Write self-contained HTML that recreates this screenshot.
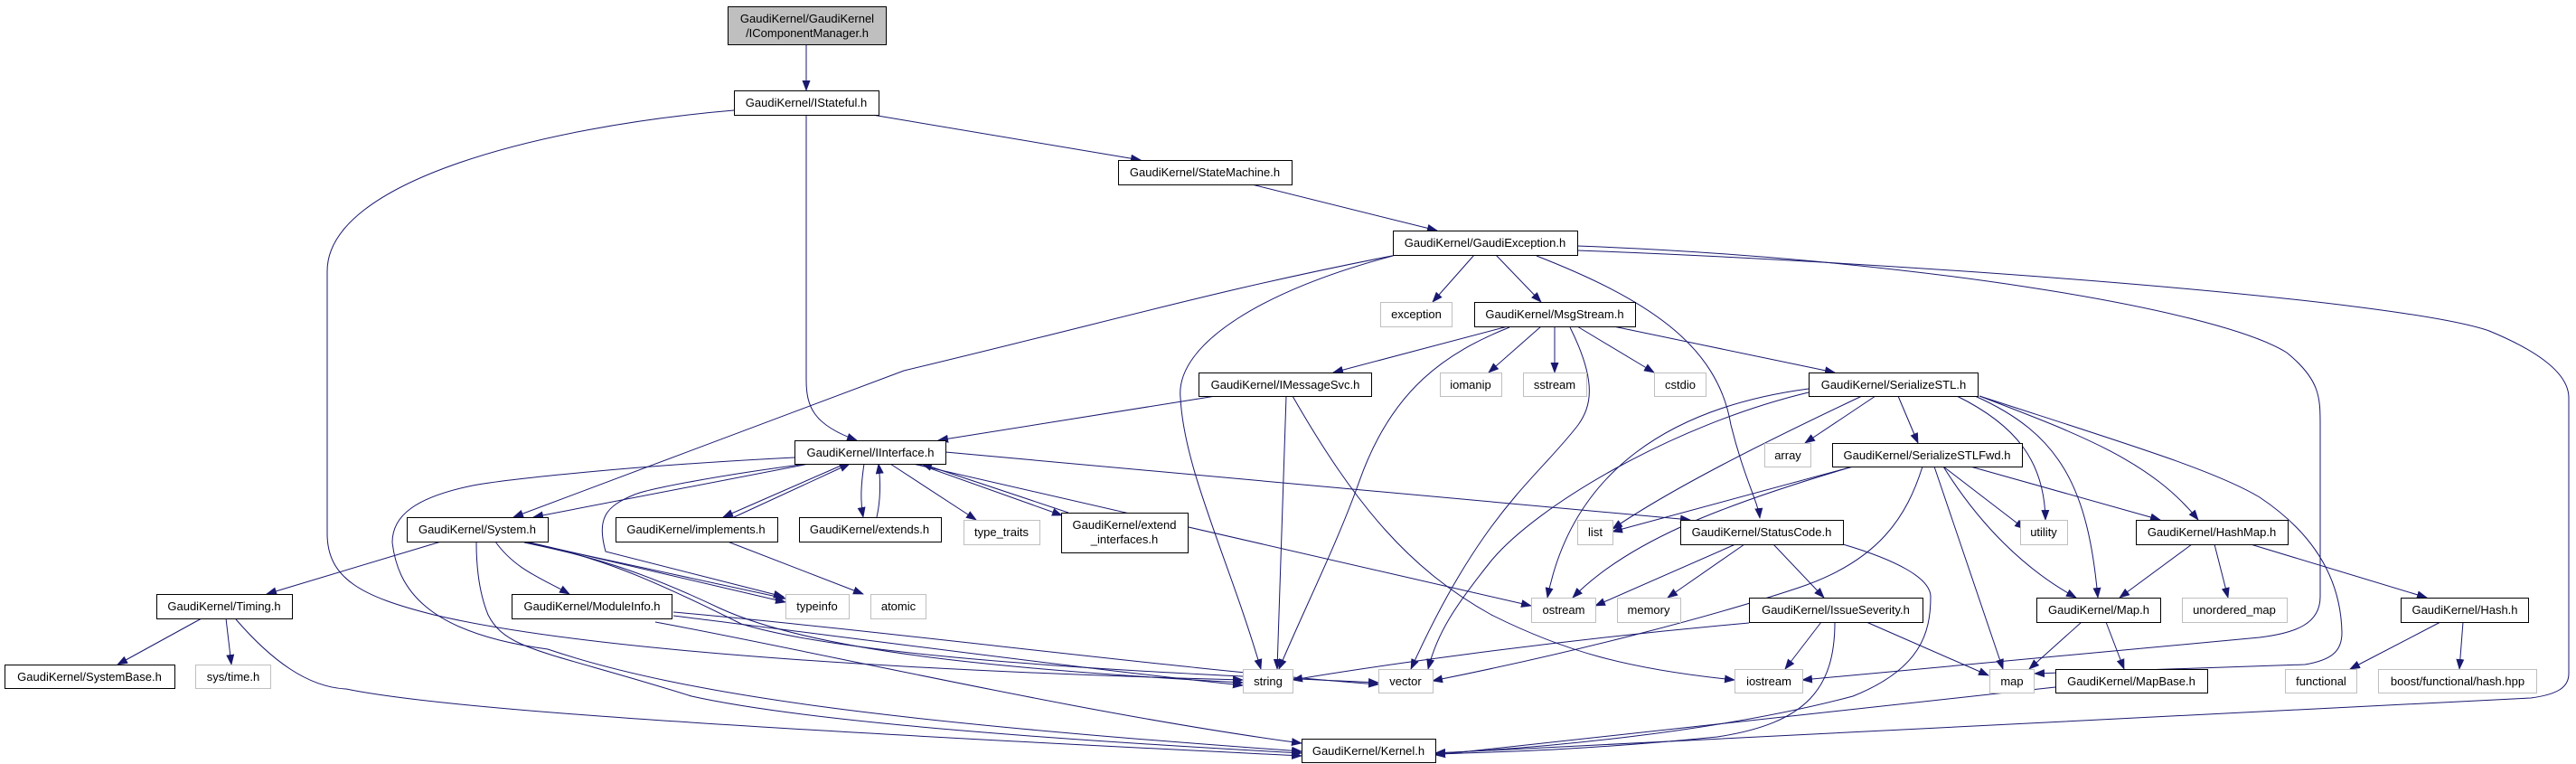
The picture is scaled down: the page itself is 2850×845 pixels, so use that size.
<!DOCTYPE html>
<html><head><meta charset="utf-8"><style>
html,body{margin:0;padding:0;background:#fff;}
svg{display:block;}
text{font-family:"Liberation Sans",Arial,sans-serif;font-size:13px;fill:#000;}
</style></head><body>
<svg width="2850" height="845" viewBox="0 0 2850 845" xmlns="http://www.w3.org/2000/svg">
<defs>
<marker id="a" markerWidth="12" markerHeight="9" refX="11" refY="4.5" orient="auto" markerUnits="userSpaceOnUse">
<path d="M0,0 L12,4.5 L0,9 z" fill="#191970"/>
</marker>
</defs>
<g fill="none" stroke="#191970" stroke-width="1" marker-end="url(#a)">
<path d="M892,49 L892,100"/>
<path d="M965,127 L1262,177"/>
<path d="M892,127 L892,420 C892,450 900,470 948,487"/>
<path d="M812,122 C600,140 362,200 362,300 L362,590 C362,640 400,660 480,680 C650,720 1000,742 1375,752"/>
<path d="M1385,204 L1590,255"/>
<path d="M1631,282 L1585,334"/>
<path d="M1655,282 L1705,334"/>
<path d="M1545,282 C1350,320 1250,350 1000,410 L568,572"/>
<path d="M1541,283 C1400,320 1300,380 1306,440 C1310,520 1360,620 1395,740"/>
<path d="M1700,283 C1820,330 1900,380 1915,470 C1930,530 1945,555 1947,573"/>
<path d="M1745,272 C2100,285 2450,340 2530,390 C2567,420 2567,440 2567,470 L2567,660 C2567,690 2540,700 2500,705 L1994,752"/>
<path d="M1745,277 C2100,290 2650,330 2754,366 C2800,385 2842,410 2842,440 L2842,745 C2842,760 2830,768 2800,772 L1588,833"/>
<path d="M1668,361 L1475,412"/>
<path d="M1670,362 C1600,390 1540,430 1504,532 C1480,600 1440,680 1415,740"/>
<path d="M1705,361 L1647,412"/>
<path d="M1720,361 L1720,412"/>
<path d="M1737,362 C1768,424 1760,450 1746,470 C1700,530 1640,565 1561,740"/>
<path d="M1745,361 L1830,412"/>
<path d="M1785,361 L2030,412"/>
<path d="M1345,438 L1038,487"/>
<path d="M1423,438 L1413,740"/>
<path d="M1430,438 C1500,560 1560,630 1650,680 C1730,720 1800,740 1919,752"/>
<path d="M879,506 C700,515 560,530 523,537 C460,550 434,570 434,600 C440,650 470,700 606,718 C760,770 1000,800 1440,831"/>
<path d="M895,513 L590,572"/>
<path d="M935,513 L800,572"/>
<path d="M812,572 L940,513"/>
<path d="M956,513 C952,540 952,555 955,572"/>
<path d="M970,572 C975,550 974,530 972,513"/>
<path d="M985,513 L1080,575"/>
<path d="M1015,513 L1175,570"/>
<path d="M1182,567 L1020,513"/>
<path d="M893,513 C800,525 720,540 702,547 C670,560 660,573 670,610 L867,660"/>
<path d="M1010,513 L1694,670"/>
<path d="M1046,500 L1870,575"/>
<path d="M488,599 L295,657"/>
<path d="M548,599 C570,630 600,640 630,657"/>
<path d="M527,600 C527,620 529,653 540,680 C560,720 606,720 765,770 C900,800 1200,820 1440,833"/>
<path d="M578,599 L869,662"/>
<path d="M582,599 L869,666"/>
<path d="M580,600 C650,615 700,627 797,673 C900,720 1100,740 1375,755"/>
<path d="M584,600 C660,615 720,640 820,690 C950,730 1300,745 1525,755"/>
<path d="M223,684 L130,735"/>
<path d="M250,684 L256,735"/>
<path d="M261,685 C300,730 340,760 383,762 C470,780 700,800 1440,836"/>
<path d="M745,681 C900,700 1200,740 1375,758"/>
<path d="M745,677 C1000,700 1300,740 1525,757"/>
<path d="M725,688 C900,720 1200,790 1440,822"/>
<path d="M805,599 L955,657"/>
<path d="M1920,602 L1765,670"/>
<path d="M1930,602 L1845,661"/>
<path d="M1962,602 L2018,661"/>
<path d="M2039,602 C2100,620 2136,640 2136,660 C2136,700 2125,740 2050,770 C1900,810 1700,828 1588,833"/>
<path d="M1935,689 C1700,710 1500,740 1430,752"/>
<path d="M2015,688 L1975,740"/>
<path d="M2065,688 L2200,747"/>
<path d="M2030,688 C2030,760 2000,800 1900,815 C1750,830 1650,832 1588,834"/>
<path d="M2075,438 L1997,490"/>
<path d="M2100,438 L2122,490"/>
<path d="M2165,438 C2230,470 2262,510 2263,575"/>
<path d="M2185,438 C2280,480 2310,540 2321,661"/>
<path d="M2190,438 C2300,480 2380,510 2432,575"/>
<path d="M2190,438 C2350,490 2450,520 2500,550 C2560,590 2590,640 2591,700 C2591,720 2580,730 2550,735 L2251,745"/>
<path d="M2001,430 C1850,450 1740,520 1712,661"/>
<path d="M2001,434 C1850,470 1700,560 1650,620 C1610,670 1590,700 1580,740"/>
<path d="M2060,438 C1950,490 1850,540 1784,585"/>
<path d="M2050,516 L1784,588"/>
<path d="M2050,516 C1900,560 1800,600 1740,661"/>
<path d="M2127,516 C2110,570 2080,620 1990,650 C1900,680 1750,720 1585,753"/>
<path d="M2150,516 L2240,585"/>
<path d="M2140,516 L2216,740"/>
<path d="M2150,516 C2190,580 2240,630 2297,661"/>
<path d="M2180,516 L2390,575"/>
<path d="M2425,602 L2345,661"/>
<path d="M2450,602 L2465,661"/>
<path d="M2490,602 L2685,661"/>
<path d="M2303,688 L2245,740"/>
<path d="M2330,688 L2350,740"/>
<path d="M2274,760 L1588,835"/>
<path d="M2700,688 L2600,740"/>
<path d="M2725,688 L2721,740"/>
</g>
<g stroke-width="1" fill="#fff">
<rect x="805.5" y="7.5" width="175" height="42" fill="#bfbfbf" stroke="#000"/>
<rect x="812.5" y="100.5" width="160" height="27" stroke="#000"/>
<rect x="1237.5" y="177.5" width="192" height="27" stroke="#000"/>
<rect x="1541.5" y="255.5" width="204" height="27" stroke="#000"/>
<rect x="1527.5" y="334.5" width="79" height="27" stroke="#bfbfbf"/>
<rect x="1631.5" y="334.5" width="178" height="27" stroke="#000"/>
<rect x="1326.5" y="412.5" width="191" height="26" stroke="#000"/>
<rect x="1593.5" y="412.5" width="68" height="26" stroke="#bfbfbf"/>
<rect x="1685.5" y="412.5" width="70" height="26" stroke="#bfbfbf"/>
<rect x="1830.5" y="412.5" width="57" height="26" stroke="#bfbfbf"/>
<rect x="2001.5" y="412.5" width="187" height="26" stroke="#000"/>
<rect x="879.5" y="487.5" width="167" height="26" stroke="#000"/>
<rect x="1952.5" y="490.5" width="51" height="26" stroke="#bfbfbf"/>
<rect x="2027.5" y="490.5" width="210" height="26" stroke="#000"/>
<rect x="450.5" y="572.5" width="156" height="27" stroke="#000"/>
<rect x="681.5" y="572.5" width="179" height="27" stroke="#000"/>
<rect x="884.5" y="572.5" width="157" height="27" stroke="#000"/>
<rect x="1066.5" y="575.5" width="84" height="27" stroke="#bfbfbf"/>
<rect x="1174.5" y="567.5" width="140" height="44" stroke="#000"/>
<rect x="1745.5" y="575.5" width="39" height="27" stroke="#bfbfbf"/>
<rect x="1859.5" y="575.5" width="180" height="27" stroke="#000"/>
<rect x="2235.5" y="575.5" width="52" height="27" stroke="#bfbfbf"/>
<rect x="2363.5" y="575.5" width="168" height="27" stroke="#000"/>
<rect x="173.5" y="657.5" width="150" height="27" stroke="#000"/>
<rect x="566.5" y="657.5" width="177" height="27" stroke="#000"/>
<rect x="869.5" y="657.5" width="70" height="27" stroke="#bfbfbf"/>
<rect x="963.5" y="657.5" width="61" height="27" stroke="#bfbfbf"/>
<rect x="1694.5" y="661.5" width="71" height="27" stroke="#bfbfbf"/>
<rect x="1789.5" y="661.5" width="70" height="27" stroke="#bfbfbf"/>
<rect x="1935.5" y="661.5" width="192" height="27" stroke="#000"/>
<rect x="2253.5" y="661.5" width="137" height="27" stroke="#000"/>
<rect x="2414.5" y="661.5" width="116" height="27" stroke="#bfbfbf"/>
<rect x="2656.5" y="661.5" width="141" height="27" stroke="#000"/>
<rect x="5.5" y="735.5" width="188" height="26" stroke="#000"/>
<rect x="216.5" y="735.5" width="83" height="26" stroke="#bfbfbf"/>
<rect x="1375.5" y="740.5" width="55" height="26" stroke="#bfbfbf"/>
<rect x="1525.5" y="740.5" width="60" height="26" stroke="#bfbfbf"/>
<rect x="1919.5" y="740.5" width="75" height="26" stroke="#bfbfbf"/>
<rect x="2201.5" y="740.5" width="49" height="26" stroke="#bfbfbf"/>
<rect x="2274.5" y="740.5" width="168" height="26" stroke="#000"/>
<rect x="2528.5" y="740.5" width="79" height="26" stroke="#bfbfbf"/>
<rect x="2631.5" y="740.5" width="175" height="26" stroke="#bfbfbf"/>
<rect x="1440.5" y="817.5" width="148" height="26" stroke="#000"/>
</g>
<g text-anchor="middle">
<text x="893" y="25">GaudiKernel/GaudiKernel</text>
<text x="893" y="41">/IComponentManager.h</text>
<text x="892" y="118">GaudiKernel/IStateful.h</text>
<text x="1333" y="195">GaudiKernel/StateMachine.h</text>
<text x="1643" y="273">GaudiKernel/GaudiException.h</text>
<text x="1567" y="352">exception</text>
<text x="1720" y="352">GaudiKernel/MsgStream.h</text>
<text x="1422" y="430">GaudiKernel/IMessageSvc.h</text>
<text x="1627" y="430">iomanip</text>
<text x="1720" y="430">sstream</text>
<text x="1859" y="430">cstdio</text>
<text x="2095" y="430">GaudiKernel/SerializeSTL.h</text>
<text x="963" y="505">GaudiKernel/IInterface.h</text>
<text x="1978" y="508">array</text>
<text x="2132" y="508">GaudiKernel/SerializeSTLFwd.h</text>
<text x="528" y="590">GaudiKernel/System.h</text>
<text x="770" y="590">GaudiKernel/implements.h</text>
<text x="962" y="590">GaudiKernel/extends.h</text>
<text x="1108" y="593">type_traits</text>
<text x="1244" y="585">GaudiKernel/extend</text>
<text x="1244" y="601">_interfaces.h</text>
<text x="1765" y="593">list</text>
<text x="1949" y="593">GaudiKernel/StatusCode.h</text>
<text x="2261" y="593">utility</text>
<text x="2447" y="593">GaudiKernel/HashMap.h</text>
<text x="248" y="675">GaudiKernel/Timing.h</text>
<text x="655" y="675">GaudiKernel/ModuleInfo.h</text>
<text x="904" y="675">typeinfo</text>
<text x="994" y="675">atomic</text>
<text x="1730" y="679">ostream</text>
<text x="1824" y="679">memory</text>
<text x="2031" y="679">GaudiKernel/IssueSeverity.h</text>
<text x="2322" y="679">GaudiKernel/Map.h</text>
<text x="2472" y="679">unordered_map</text>
<text x="2727" y="679">GaudiKernel/Hash.h</text>
<text x="99" y="753">GaudiKernel/SystemBase.h</text>
<text x="258" y="753">sys/time.h</text>
<text x="1403" y="758">string</text>
<text x="1555" y="758">vector</text>
<text x="1957" y="758">iostream</text>
<text x="2226" y="758">map</text>
<text x="2358" y="758">GaudiKernel/MapBase.h</text>
<text x="2568" y="758">functional</text>
<text x="2719" y="758">boost/functional/hash.hpp</text>
<text x="1514" y="835">GaudiKernel/Kernel.h</text>
</g>
</svg>
</body></html>
